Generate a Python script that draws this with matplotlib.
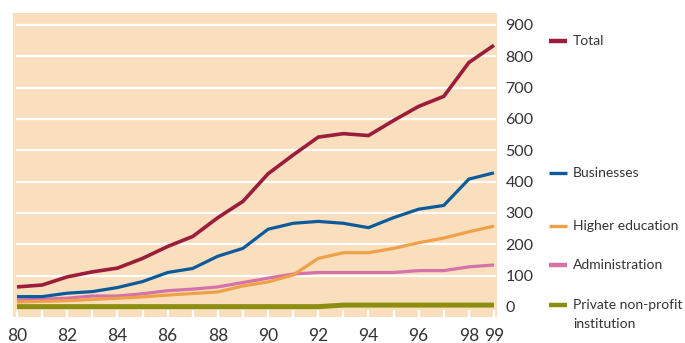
import matplotlib
matplotlib.use("Agg")
import matplotlib.pyplot as plt
from matplotlib.transforms import blended_transform_factory

years = list(range(80, 100))

total = [64, 70, 96, 112, 124, 155, 193, 225, 285, 337,
         425, 485, 542, 553, 547, 595, 640, 672, 780, 835]
businesses = [33, 33, 44, 49, 62, 81, 110, 123, 162, 187,
              248, 267, 273, 267, 253, 285, 312, 324, 408, 428]
higher_education = [16, 18, 20, 24, 28, 32, 38, 43, 48, 67,
                    80, 102, 155, 173, 173, 187, 205, 220, 240, 258]
administration = [22, 25, 28, 35, 35, 42, 52, 57, 64, 78,
                  92, 105, 110, 110, 110, 110, 116, 116, 128, 134]
private_nonprofit = [1, 1, 1, 1, 1, 1, 1, 1, 1, 1,
                     1, 1, 1, 6, 6, 6, 6, 6, 6, 6]

series_labels = ["Total", "Businesses", "Higher education",
                 "Administration", "Private non-profit\ninstitution"]
series_colors = ["#9B1D3B", "#0B5A9C", "#F0A048", "#D472A9", "#8C8E12"]

y_ticks = [0, 100, 200, 300, 400, 500, 600, 700, 800, 900]
x_ticks = [80, 82, 84, 86, 88, 90, 92, 94, 96, 98, 99]

BG = "#F9DFBE"
TEXT = "#333333"
plt.rcParams["font.family"] = ["Lato", "DejaVu Sans"]

W, H = 685, 343
fig = plt.figure(figsize=(W / 100, H / 100), dpi=100)
fig.patch.set_facecolor("white")

left, right, top, bottom = 13, 497, 13, 317
ax = fig.add_axes([left / W, 1 - bottom / H, (right - left) / W, (bottom - top) / H])
ax.set_facecolor(BG)
ax.set_xlim(79.84, 99.12)
ax.set_ylim(-32, 938)

# white horizontal grid and white year separators at the bottom
ax.hlines(y_ticks[1:], 79.96, 99.08, color="white", lw=1.6, zorder=1)
ax.vlines(years, -32, -9, color="white", lw=1.6, zorder=1)

data = [total, businesses, higher_education, administration, private_nonprofit]
widths = [2.6, 2.3, 2.3, 2.3, 3.6]
for vals, col, lw in zip(data[::-1], series_colors[::-1], widths[::-1]):
    ax.plot(years, vals, color=col, lw=lw, solid_capstyle="butt",
            solid_joinstyle="miter", zorder=3)

for s in ax.spines.values():
    s.set_visible(False)

ax.yaxis.tick_right()
ax.set_yticks(y_ticks)
ax.set_yticklabels([str(v) for v in y_ticks])
ax.tick_params(axis="y", length=0, pad=6, labelsize=11.5, labelcolor=TEXT)
ax.set_xticks(x_ticks)
ax.set_xticklabels([str(v) for v in x_ticks])
ax.tick_params(axis="x", length=0, pad=8, labelsize=12.5, labelcolor=TEXT)

# legend placed beside the final values
trans = blended_transform_factory(fig.transFigure, ax.transData)
legend_y = [total[-1] + 14, businesses[-1], higher_education[-1],
            administration[-1], private_nonprofit[-1]]
legend_w = [3.2, 2.4, 2.4, 3.2, 3.2]
for lab, col, yv, lw in zip(series_labels, series_colors, legend_y, legend_w):
    ax.plot([549 / W, 567 / W], [yv, yv], color=col, lw=lw, transform=trans,
            clip_on=False, solid_capstyle="butt")
    for i, line in enumerate(lab.split("\n")):
        ax.annotate(line, xy=(573 / W, yv), xycoords=trans,
                    xytext=(0, -13.8 * i), textcoords="offset points",
                    ha="left", va="center", fontsize=10, color=TEXT)

fig.savefig("out.png", dpi=100, facecolor="white")
